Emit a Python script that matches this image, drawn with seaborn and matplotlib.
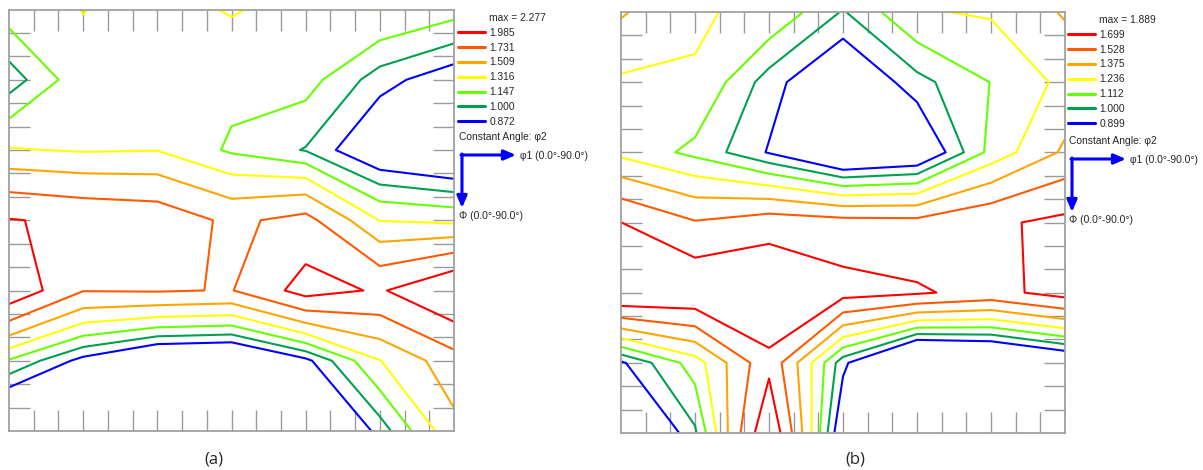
import matplotlib
matplotlib.use("Agg")
import matplotlib.pyplot as plt
import seaborn as sns
from matplotlib.lines import Line2D

# ODF section grid (15 deg steps), rows = Phi, columns = phi1
phi1_deg = [0, 15, 30, 45, 60, 75, 90]
Phi_deg = [0, 15, 30, 45, 60, 75, 90]

odf_a = [
    [1.230, 1.320, 1.250, 1.330, 1.250, 1.320, 1.210],
    [0.918, 1.260, 1.250, 1.200, 1.213, 0.926, 0.775],
    [1.330, 1.300, 1.310, 1.120, 0.990, 0.700, 0.595],
    [2.000, 1.930, 1.884, 1.680, 1.810, 1.310, 1.270],
    [2.190, 1.740, 1.750, 1.720, 2.090, 1.955, 2.270],
    [1.130, 0.820, 0.600, 0.570, 0.830, 1.310, 1.630],
    [0.450, 0.700, 0.500, 0.500, 0.500, 0.920, 1.450],
]
levels_a = [0.872, 1.000, 1.147, 1.316, 1.509, 1.731, 1.985]
max_a = 2.277

odf_b = [
    [1.391, 1.245, 1.217, 0.990, 1.225, 1.250, 1.390],
    [1.215, 1.230, 0.946, 0.750, 0.962, 1.115, 1.270],
    [1.200, 1.080, 0.890, 0.670, 0.740, 1.150, 1.400],
    [1.700, 1.540, 1.620, 1.590, 1.580, 1.670, 1.740],
    [1.890, 1.857, 1.880, 1.763, 1.720, 1.640, 1.770],
    [0.880, 1.170, 1.650, 0.930, 0.500, 0.570, 0.720],
    [0.600, 0.980, 1.870, 0.770, 0.500, 0.500, 0.550],
]
levels_b = [0.899, 1.000, 1.112, 1.236, 1.375, 1.528, 1.699]
max_b = 1.889

level_colors = ["#0000ff", "#00a050", "#66ff00", "#ffff00", "#ffa500", "#ff5a00", "#ff0000"]
panel_labels = ["(a)", "(b)"]

W, H = 1203, 470


def fx(px):
    return px / W


def fy(py):
    return 1 - py / H


def draw_section(fig, box, odf, levels, max_val, leg_x, leg_top, corner, label, label_x):
    left, top, right, bottom = box
    ax = fig.add_axes([fx(left), fy(bottom), (right - left) / W, (bottom - top) / H])
    ax.contour(phi1_deg, Phi_deg, odf, levels=levels, colors=level_colors, linewidths=1.5)
    ax.set_xlim(0, 90)
    ax.set_ylim(90, 0)
    ticks = list(range(5, 90, 5))
    ax.set_xticks(ticks)
    ax.set_yticks(ticks)
    ax.tick_params(direction="in", length=15, width=1, color="#9a9a9a",
                   top=True, right=True, bottom=True, left=True,
                   labelbottom=False, labelleft=False)
    for sp in ax.spines.values():
        sp.set_visible(True)
        sp.set_color("#a0a0a0")
        sp.set_linewidth(1.3)

    # legend: max value on top, then levels from high to low
    handles = [Line2D([], [], color="none")]
    handles += [Line2D([], [], color=c, lw=2.2) for c in reversed(level_colors)]
    labels = [f"max = {max_val:.3f}"] + [f"{v:.3f}" for v in reversed(levels)]
    fig.legend(handles, labels, loc="upper left", bbox_to_anchor=(fx(leg_x), fy(leg_top)),
               bbox_transform=fig.transFigure, frameon=False, fontsize=7.4,
               handlelength=2.6, handletextpad=0.45, labelspacing=0.47,
               borderpad=0, borderaxespad=0)

    cx, cy = corner
    fig.text(fx(cx - 3), fy(cy - 18), "Constant Angle: φ2", fontsize=7.4, va="center", ha="left")
    arrow = dict(arrowstyle="-|>,head_length=0.7,head_width=0.3", color="#0000ff",
                 lw=2.2, shrinkA=0, shrinkB=0)
    fig.add_artist(plt.Annotation("", xy=(fx(cx + 54), fy(cy)), xytext=(fx(cx - 1), fy(cy)),
                                  xycoords=fig.transFigure, textcoords=fig.transFigure,
                                  arrowprops=arrow))
    fig.add_artist(plt.Annotation("", xy=(fx(cx), fy(cy + 53)), xytext=(fx(cx), fy(cy - 1)),
                                  xycoords=fig.transFigure, textcoords=fig.transFigure,
                                  arrowprops=arrow))
    fig.text(fx(cx + 58), fy(cy + 1), "φ1 (0.0°-90.0°)", fontsize=7.4, va="center", ha="left")
    fig.text(fx(cx - 3), fy(cy + 61), "Φ (0.0°-90.0°)", fontsize=7.4, va="center", ha="left")

    fig.text(fx(label_x), fy(459), label, fontsize=12, ha="center", va="center",
             family=["Open Sans", "DejaVu Sans"])
    return ax


sns.set_style("white")
plt.rcParams["font.family"] = ["Liberation Sans", "DejaVu Sans"]

fig = plt.figure(figsize=(W / 100, H / 100), dpi=100)
draw_section(fig, (9, 9.5, 454, 431), odf_a, levels_a, max_a, 458, 13, (462, 155),
             panel_labels[0], 214)
draw_section(fig, (621, 12, 1065, 433), odf_b, levels_b, max_b, 1068, 15, (1072, 159),
             panel_labels[1], 855)

fig.savefig("out.png", dpi=100)
